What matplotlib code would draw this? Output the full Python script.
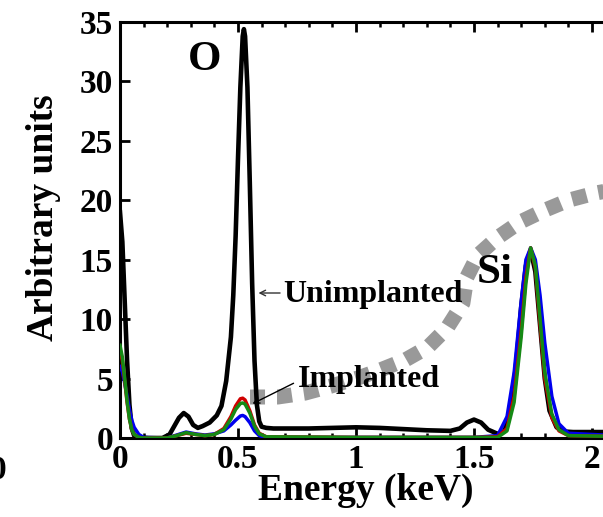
import matplotlib
matplotlib.use('Agg')
import matplotlib.pyplot as plt

plt.rcParams['font.family'] = ['Liberation Serif', 'DejaVu Serif']
plt.rcParams['font.weight'] = 'bold'

# Unimplanted (black)
x_un = [0, 0.01, 0.02, 0.03, 0.04, 0.05, 0.06, 0.08, 0.12, 0.18, 0.21, 0.23, 0.25, 0.27,
        0.29, 0.31, 0.33, 0.35, 0.38, 0.41, 0.43, 0.45, 0.47, 0.48, 0.49, 0.50, 0.51, 0.52,
        0.525, 0.53, 0.54, 0.55, 0.56, 0.57, 0.58, 0.59, 0.60, 0.62, 0.65, 0.7, 0.8, 0.9,
        1.0, 1.1, 1.2, 1.3, 1.4, 1.44, 1.47, 1.50, 1.53, 1.56, 1.6, 1.63, 1.66, 1.68, 1.70,
        1.72, 1.74, 1.76, 1.78, 1.80, 1.82, 1.85, 1.88, 1.92, 2.0, 2.1, 2.2]
y_un = [19.0, 16.5, 11.5, 6.5, 2.8, 0.8, 0.2, 0.05, 0.0, 0.0, 0.3, 1.0, 1.7, 2.1,
        1.8, 1.1, 0.85, 1.0, 1.3, 1.9, 2.7, 4.8, 8.5, 12.0, 17.0, 23.5, 29.5, 33.8,
        34.4, 33.8, 29.5, 21.5, 13.0, 6.5, 2.8, 1.4, 0.95, 0.85, 0.8, 0.8, 0.8, 0.85,
        0.9, 0.85, 0.75, 0.65, 0.6, 0.8, 1.3, 1.55, 1.3, 0.7, 0.35, 0.6, 3.0, 6.5, 11.0,
        14.5, 15.8, 14.0, 9.5, 5.0, 2.3, 0.9, 0.55, 0.5, 0.5, 0.5, 0.5]

# Implanted samples (red, green, blue)
x_imp = [0, 0.01, 0.02, 0.03, 0.04, 0.05, 0.06, 0.08, 0.1, 0.2, 0.24, 0.28, 0.32, 0.36,
         0.4, 0.44, 0.47, 0.49, 0.51, 0.52, 0.53, 0.55, 0.57, 0.59, 0.62, 1.0, 1.5, 1.6,
         1.64, 1.67, 1.70, 1.72, 1.74, 1.76, 1.78, 1.80, 1.83, 1.86, 1.9, 2.2]
y_red = [7.5, 6.5, 4.8, 3.0, 1.6, 0.7, 0.3, 0.05, 0, 0, 0.2, 0.4, 0.3, 0.2,
         0.3, 0.8, 1.8, 2.7, 3.3, 3.35, 3.2, 2.3, 1.1, 0.4, 0.1, 0.05, 0.05, 0.1,
         0.8, 3.5, 9.0, 13.5, 16.0, 14.3, 9.5, 5.0, 1.7, 0.6, 0.2, 0.1]
y_green = [7.8, 6.8, 5.0, 3.1, 1.6, 0.7, 0.3, 0.05, 0, 0, 0.2, 0.45, 0.3, 0.2,
           0.3, 0.7, 1.6, 2.4, 2.9, 2.95, 2.85, 2.1, 1.0, 0.35, 0.1, 0.05, 0.05, 0.05,
           0.6, 3.0, 8.5, 13.0, 16.0, 14.5, 10.0, 5.5, 2.0, 0.7, 0.2, 0.1]
y_blue = [6.0, 5.6, 4.6, 3.5, 2.4, 1.5, 0.9, 0.3, 0.05, 0, 0.25, 0.5, 0.35, 0.25,
          0.35, 0.6, 1.1, 1.5, 1.85, 1.9, 1.8, 1.3, 0.6, 0.2, 0.05, 0.05, 0.05, 0.2,
          1.8, 5.5, 11.5, 15.0, 16.0, 15.0, 12.0, 8.0, 3.5, 1.2, 0.4, 0.1]

# grey guide curve
x_guide = [0.551, 0.669, 0.784, 0.894, 1.008, 1.102, 1.208, 1.305, 1.386, 1.453, 1.470,
           1.517, 1.602, 1.695, 1.801, 1.903, 2.013, 2.119]
y_guide = [3.45, 3.45, 3.78, 4.37, 5.05, 5.72, 6.56, 7.65, 9.25, 11.35, 13.54,
           15.39, 16.9, 18.17, 19.18, 20.02, 20.6, 21.0]

x_ticks = [0, 0.5, 1, 1.5, 2]
x_ticklabels = ['0', '0.5', '1', '1.5', '2']
y_ticks = [0, 5, 10, 15, 20, 25, 30, 35]

fig = plt.figure(figsize=(6.03, 5.17), dpi=100)
ax = fig.add_axes([0.199, 0.1528, 0.861, 0.8046])

ax.plot(x_guide, y_guide, color='#999999', lw=10.8, linestyle=(0, (1, 0.8)),
        solid_capstyle='butt', dash_capstyle='butt', zorder=1)

ax.plot(x_un, y_un, color='black', lw=3.3, zorder=2)
ax.plot(x_imp, y_blue, color='#0000ee', lw=2.5, zorder=3)
ax.plot(x_imp, y_red, color='#d00000', lw=2.5, zorder=4)
ax.plot(x_imp, y_green, color='#158a15', lw=2.5, zorder=5)

ax.set_xlim(0, 2.2)
ax.set_ylim(0, 35)
ax.set_xticks(x_ticks)
ax.set_xticklabels(x_ticklabels)
ax.set_xticks([i / 10 for i in range(23)], minor=True)
ax.set_yticks(y_ticks)

ax.tick_params(axis='both', which='major', direction='in', length=7, width=2,
               labelsize=24, top=True)
ax.tick_params(axis='x', which='minor', direction='in', length=3.5, width=1.8, top=True)
ax.tick_params(axis='x', pad=4)
ax.tick_params(axis='y', pad=5)
for s in ax.spines.values():
    s.set_linewidth(2.2)

ax.set_xlabel('Energy (keV)', fontsize=27, fontweight='bold')
ax.xaxis.set_label_coords(0.474, -0.085)
ax.set_ylabel('Arbitrary units', fontsize=27, fontweight='bold')
ax.yaxis.set_label_coords(-0.114, 0.529)

ax.text(0.36, 30.95, 'O', fontsize=31, fontweight='bold', ha='center', va='baseline', zorder=6)
ax.text(1.513, 13.0, 'Si', fontsize=31, fontweight='bold', ha='left', va='baseline', zorder=6)

ax.annotate('', xy=(0.575, 12.2), xytext=(0.69, 12.2),
            arrowprops=dict(arrowstyle='->', lw=1.0, color='#333333'), zorder=6)
ax.text(0.691, 11.44, 'Unimplanted', fontsize=23, fontweight='bold', va='baseline', zorder=6)

ax.annotate('', xy=(0.551, 2.78), xytext=(0.746, 4.71),
            arrowprops=dict(arrowstyle='->', lw=1.0, color='black'), zorder=6)
ax.text(0.754, 4.29, 'Implanted', fontsize=23, fontweight='bold', va='baseline', zorder=6)

# leftover tick label from the neighbouring panel
fig.text(0.010, 1 - 455 / 517, '0', fontsize=24, fontweight='bold', ha='right', va='top')

plt.savefig('out.png', dpi=100)
plt.close()
